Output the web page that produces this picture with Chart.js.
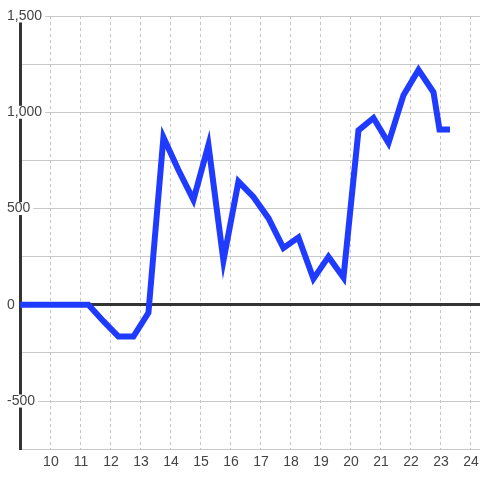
<!DOCTYPE html>
<html>
<head>
<meta charset="utf-8">
<script src="https://cdn.jsdelivr.net/npm/chart.js@4/dist/chart.umd.min.js"></script>
<style>
  html, body { margin: 0; padding: 0; background: #ffffff; }
  canvas { display: block; }
</style>
</head>
<body>
<canvas id="c" width="480" height="480"></canvas>
<script>
// Hour of day for each reading
const hours = [8.75, 9.25, 9.75, 10.25, 10.75, 11.25, 11.75, 12.25, 12.75, 13.25,
  13.75, 14.25, 14.75, 15.25, 15.75, 16.25, 16.75, 17.25, 17.75, 18.25,
  18.75, 19.25, 19.75, 20.25, 20.75, 21.25, 21.75, 22.25, 22.75, 22.95, 23.3];
// Reading values
const values = [0, 0, 0, 0, 0, 0, -85, -165, -165, -42,
  870, 700, 545, 830, 230, 640, 560, 450, 295, 350,
  135, 250, 141, 906, 970, 840, 1089, 1220, 1104, 911, 911];
// Axis settings
const xTickHours = [10, 11, 12, 13, 14, 15, 16, 17, 18, 19, 20, 21, 22, 23, 24];
const yLabelValues = [-500, 0, 500, 1000, 1500];

const FONT = "'Liberation Sans', Arial, sans-serif";

new Chart(document.getElementById('c'), {
  type: 'line',
  data: {
    datasets: [{
      data: hours.map((h, i) => ({ x: h, y: values[i] })),
      borderColor: '#1f3bff',
      borderWidth: 6,
      pointRadius: 0,
      tension: 0,
      fill: false,
      borderCapStyle: 'butt',
      borderJoinStyle: 'miter'
    }]
  },
  options: {
    responsive: false,
    animation: false,
    layout: { padding: { left: 5, right: 0, top: 16, bottom: 4 } },
    plugins: { legend: { display: false }, tooltip: { enabled: false } },
    scales: {
      x: {
        type: 'linear',
        min: 8.97,
        max: 24.3,
        afterBuildTicks: (s) => {
          s.ticks = xTickHours.map(v => ({ value: v }));
        },
        afterFit: (s) => { s.paddingLeft = 0; s.paddingRight = 0; },
        ticks: {
          stepSize: 1,
          padding: 5,
          color: '#444',
          font: { family: FONT, size: 14 },
          maxRotation: 0,
          autoSkip: false,
          callback: (v) => String(v)
        },
        grid: {
          color: '#c4c4c4',
          lineWidth: 1,
          drawTicks: false
        },
        border: { display: false, dash: [3, 3] }
      },
      y: {
        type: 'linear',
        min: -750,
        max: 1500,
        afterFit: (s) => { s.width = 15; },
        ticks: {
          stepSize: 250,
          color: '#444',
          mirror: true,
          crossAlign: 'near',
          padding: -13,
          font: { family: FONT, size: 14, lineHeight: '13px' },
          showLabelBackdrop: true,
          backdropColor: '#ffffff',
          backdropPadding: { top: 0, bottom: 0, left: 2, right: 3 },
          callback: (v) => yLabelValues.includes(v) ? v.toLocaleString('en-US') : ''
        },
        grid: {
          drawTicks: false,
          color: (ctx) => (ctx.tick && ctx.tick.value === 0) ? '#333333' : '#c8c8c8',
          lineWidth: (ctx) => (ctx.tick && ctx.tick.value === 0) ? 3 : 1
        },
        border: { display: true, color: '#333333', width: 3 }
      }
    }
  }
});
</script>
</body>
</html>
